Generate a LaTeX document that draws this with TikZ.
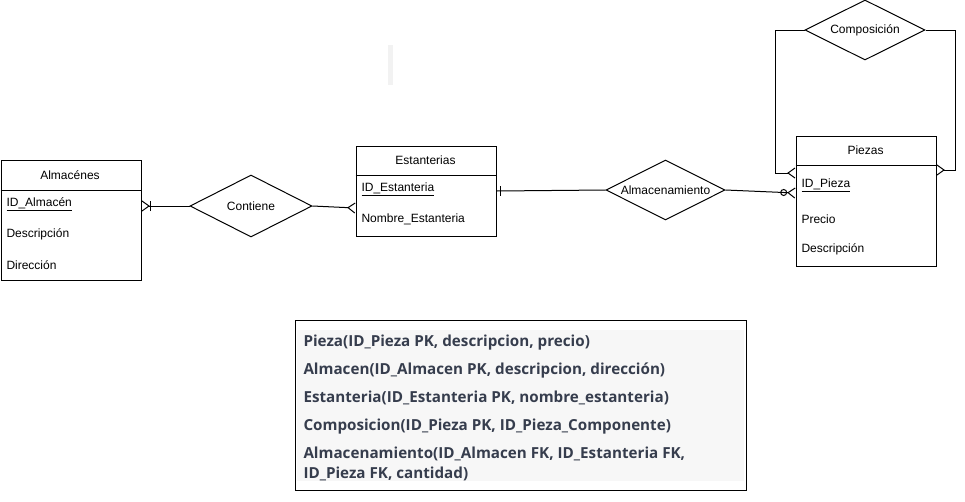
\documentclass[tikz,border=0pt]{standalone}
\usepackage{fontspec}
\setmainfont{Liberation Sans}
\newfontfamily\schemafont{Open Sans}
\usetikzlibrary{arrows.meta,shapes.geometric,positioning}
\definecolor{schematext}{HTML}{363D4D}
\definecolor{schemabg}{HTML}{F7F7F7}

\tikzset{
  entity/.style={draw, rectangle, anchor=north west, minimum width=140, inner sep=0},
  attr/.style={anchor=west, inner sep=0},
  rel/.style={draw, diamond, aspect=2, inner sep=0},
  crow/.tip={Straight Barb[reversed, length=7pt, width=10pt]},
  schemaline/.style={anchor=base west, inner sep=0, text=schematext,
    font=\schemafont\bfseries\fontsize{15.2}{18}\selectfont}
}

\begin{document}
\begin{tikzpicture}[x=1pt, y=-1pt, line width=1pt, font=\fontsize{12}{14}\selectfont]

    \useasboundingbox (0,0) rectangle (965,501);

    % faint bar
    \fill[black!5] (388,45) rectangle (393,85);

    % Almacenes
    \node[entity, minimum height=120] (alm) at (0.5,160) {};
    \draw ([yshift=-30]alm.north west) -- ([yshift=-30]alm.north east);
    \node (almT) at (70,175) {Almacénes};
    \node[attr] (almId) at (6,204) {\underline{ID\_Almacén}};
    \node[attr] (almDesc) at (6,234) {Descripción};
    \node[attr] (almDir) at (6,265) {Dirección};

    % Estanterias
    \node[entity, minimum height=90] (est) at (355.5,145.5) {};
    \draw ([yshift=-30]est.north west) -- ([yshift=-30]est.north east);
    \node (estT) at (425.5,160) {Estanterias};
    \node[attr] (estId) at (361,189) {\underline{ID\_Estanteria}};
    \node[attr] (estNom) at (361,219) {Nombre\_Estanteria};

    % Piezas
    \node[entity, minimum height=130] (pie) at (795.5,135.5) {};
    \draw ([yshift=-30]pie.north west) -- ([yshift=-30]pie.north east);
    \node (pieT) at (865.5,150) {Piezas};
    \node[attr] (pieId) at (801,185) {\underline{ID\_Pieza}};
    \node[attr] (piePre) at (801,219) {Precio};
    \node[attr] (pieDesc) at (801,249) {Descripción};

    % relaciones
    \node[rel, minimum width=122, minimum height=62] (cont) at (251,206) {Contiene};
    \node[rel, minimum width=119, minimum height=60] (alma) at (665.5,190) {Almacenamiento};
    \node[rel, minimum width=120, minimum height=60] (comp) at (865,30) {Composición};

    \draw[{crow[] Bar[width=10pt]}-] (cont.west -| alm.east) -- (cont.west);
    \draw[-{crow[]}] (cont.east) -- ([yshift=-17]est.west);
    \draw (est.east) -- (alma.west);
    \draw ([xshift=4]est.east) +(0,-5) -- +(0,5);
    \draw[-{Circle[open, length=7pt, width=7pt] crow[]}] (alma.east) -- ([yshift=8]pie.west);

    % lazo de Composicion
    \coordinate (loopL) at (775,173);
    \coordinate (loopR) at (955,170);
    \draw[-{crow[]}] (comp.west) -| (loopL) -- (pie.west |- loopL);
    \draw[-{crow[]}] (comp.east) -| (loopR) -- (pie.east |- loopR);

    % esquema relacional
    \node[draw, anchor=north west, minimum width=451, minimum height=170, inner sep=0] (schema) at (295,320) {};
    \fill[schemabg] (297,330) rectangle (744,481);
    \node[schemaline] (s1) at (303,346) {Pieza(ID\_Pieza PK, descripcion, precio)};
    \node[schemaline] (s2) at (303,374) {Almacen(ID\_Almacen PK, descripcion, dirección)};
    \node[schemaline] (s3) at (303,402) {Estanteria(ID\_Estanteria PK, nombre\_estanteria)};
    \node[schemaline] (s4) at (303,430) {Composicion(ID\_Pieza PK, ID\_Pieza\_Componente)};
    \node[schemaline] (s5) at (303,458) {Almacenamiento(ID\_Almacen FK, ID\_Estanteria FK,};
    \node[schemaline] (s6) at (303,478) {ID\_Pieza FK, cantidad)};

\end{tikzpicture}
\end{document}
